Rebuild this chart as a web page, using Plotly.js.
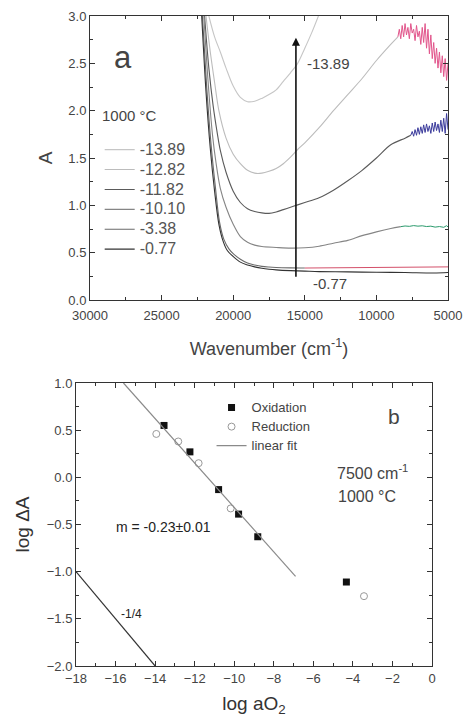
<!DOCTYPE html>
<html>
<head>
<meta charset="utf-8">
<script src="https://cdn.plot.ly/plotly-3.0.1.min.js"></script>
<style>html,body{margin:0;padding:0;background:#fff}#chart{width:468px;height:728px}</style>
</head>
<body>
<div id="chart"></div>
<script>
// ---------- Panel a: absorbance spectra (log aO2 labels) ----------
var seriesNames = ['-13.89', '-12.82', '-11.82', '-10.10', '-3.38', '-0.77'];
var wnTicks = [30000, 25000, 20000, 15000, 10000, 5000];
var wnTickText = ['30000', '25000', '20000', '15000', '10000', '5000'];

var wnA = [21700, 21300, 20900, 20500, 20000, 19500, 19000, 18500, 18000, 17500, 17000, 16500, 16000, 15500, 15000, 14500, 14050];
var absA = [3.0, 2.78, 2.62, 2.45, 2.26, 2.14, 2.095, 2.10, 2.13, 2.17, 2.22, 2.31, 2.40, 2.50, 2.66, 2.83, 3.0];

var wnB = [21900, 21600, 21300, 21000, 20500, 20000, 19500, 19000, 18500, 18000, 17500, 17000, 16500, 16000, 15500, 15000, 14000, 13000, 12000, 11000, 10000, 9000, 8500];
var absB = [3.0, 2.62, 2.3, 2.0, 1.71, 1.54, 1.44, 1.37, 1.34, 1.34, 1.36, 1.39, 1.44, 1.51, 1.59, 1.66, 1.82, 2.0, 2.17, 2.34, 2.53, 2.70, 2.78];
var wnBn = [8500, 8400, 8300, 8200, 8100, 8000, 7900, 7800, 7700, 7600, 7500, 7400, 7300, 7200, 7100, 7000, 6900, 6800, 6700, 6600, 6500, 6400, 6300, 6200, 6100, 6000, 5900, 5800, 5700, 5600, 5500, 5400, 5300, 5200, 5100, 5000];
var absBn = [2.78, 2.86, 2.76, 2.90, 2.78, 2.92, 2.80, 2.88, 2.76, 2.92, 2.82, 2.86, 2.74, 2.90, 2.78, 2.84, 2.70, 2.88, 2.72, 2.92, 2.66, 2.86, 2.60, 2.80, 2.55, 2.72, 2.50, 2.66, 2.45, 2.62, 2.40, 2.58, 2.36, 2.55, 2.32, 2.50];

var wnC = [22000, 21700, 21400, 21100, 20900, 20500, 20000, 19500, 19000, 18500, 18000, 17500, 17000, 16500, 16000, 15500, 15000, 14000, 13000, 12000, 11000, 10000, 9000, 8000, 7600];
var absC = [3.0, 2.45, 2.05, 1.75, 1.58, 1.35, 1.15, 1.03, 0.965, 0.935, 0.92, 0.915, 0.93, 0.955, 0.98, 1.005, 1.03, 1.08, 1.16, 1.26, 1.37, 1.50, 1.64, 1.71, 1.74];
var wnCn = [7600, 7500, 7400, 7300, 7200, 7100, 7000, 6900, 6800, 6700, 6600, 6500, 6400, 6300, 6200, 6100, 6000, 5900, 5800, 5700, 5600, 5500, 5400, 5300, 5200, 5100, 5000];
var absCn = [1.74, 1.78, 1.73, 1.80, 1.74, 1.82, 1.75, 1.83, 1.76, 1.85, 1.77, 1.86, 1.78, 1.84, 1.76, 1.87, 1.78, 1.88, 1.79, 1.86, 1.77, 1.90, 1.78, 1.92, 1.76, 1.97, 1.80];

var wnD = [22050, 21750, 21450, 21200, 20900, 20500, 20000, 19500, 19000, 18500, 18000, 17000, 16000, 15000, 14000, 13000, 12000, 11000, 10000, 9000, 8300];
var absD = [3.0, 2.3, 1.75, 1.45, 1.18, 0.98, 0.80, 0.67, 0.61, 0.58, 0.565, 0.555, 0.548, 0.552, 0.568, 0.60, 0.63, 0.68, 0.72, 0.755, 0.775];
var wnDn = [8300, 8000, 7700, 7400, 7100, 6800, 6500, 6200, 5900, 5600, 5300, 5100, 5000];
var absDn = [0.775, 0.782, 0.778, 0.786, 0.780, 0.784, 0.776, 0.780, 0.770, 0.776, 0.768, 0.785, 0.772];

var wnE = [22150, 21850, 21550, 21250, 20950, 20650, 20300, 20000, 19500, 19000, 18500, 18000, 17500, 17000, 16000, 15000];
var absE = [3.0, 2.25, 1.65, 1.2, 0.82, 0.64, 0.54, 0.49, 0.43, 0.39, 0.37, 0.355, 0.348, 0.344, 0.34, 0.338];
var wnEn = [15000, 14000, 13000, 12000, 11000, 10000, 9000, 8000, 7000, 6000, 5500, 5000];
var absEn = [0.338, 0.339, 0.340, 0.341, 0.342, 0.343, 0.344, 0.345, 0.346, 0.347, 0.348, 0.350];

var wnF = [22200, 21900, 21600, 21300, 21000, 20700, 20400, 20000, 19500, 19000, 18500, 18000, 17500, 17000, 16000, 15000, 14000, 12000, 10000, 8000, 6000, 5000];
var absF = [3.0, 2.2, 1.6, 1.15, 0.8, 0.62, 0.52, 0.46, 0.40, 0.37, 0.35, 0.335, 0.325, 0.318, 0.31, 0.305, 0.30, 0.297, 0.293, 0.29, 0.285, 0.29];

var grayColors = ['#c6c6c6', '#bcbcbc', '#5a5a5a', '#858585', '#6a6a6a', '#333333'];

// ---------- Panel b: log dA vs log aO2 ----------
var oxX = [-13.55, -12.24, -10.79, -9.78, -8.81, -4.33];
var oxY = [0.55, 0.27, -0.13, -0.39, -0.63, -1.11];
var redX = [-13.94, -12.83, -11.80, -10.18, -3.44];
var redY = [0.46, 0.38, 0.15, -0.33, -1.26];
var fitX = [-15.6, -6.9];
var fitY = [1.0, -1.05];
var quarterX = [-18, -14];
var quarterY = [-1.0, -2.0];

var FONT = 'Liberation Sans, Arial, sans-serif';
function lname(s, sz){ return '<span style="font-size:' + sz + 'px">' + s + '</span>'; }

var traces = [];
var grayX = [wnA, wnB, wnC, wnD, wnE, wnF];
var grayY = [absA, absB, absC, absD, absE, absF];
for (var i = 0; i < 6; i++) {
  traces.push({
    x: grayX[i], y: grayY[i], type: 'scatter', mode: 'lines',
    line: {color: grayColors[i], width: 1.1, shape: 'spline', smoothing: 0.9},
    name: lname(seriesNames[i], 16), xaxis: 'x', yaxis: 'y', legend: 'legend'
  });
}
var noisyX = [wnBn, wnCn, wnDn, wnEn];
var noisyY = [absBn, absCn, absDn, absEn];
var noisyCol = ['#e2568c', '#3b3b9c', '#2a9a6c', '#d4506a'];
for (var j = 0; j < 4; j++) {
  traces.push({
    x: noisyX[j], y: noisyY[j], type: 'scatter', mode: 'lines',
    line: {color: noisyCol[j], width: 1}, showlegend: false, hoverinfo: 'skip',
    xaxis: 'x', yaxis: 'y'
  });
}

traces.push({x: oxX, y: oxY, type: 'scatter', mode: 'markers', name: lname('Oxidation', 13),
  marker: {symbol: 'square', size: 7, color: '#111'}, xaxis: 'x2', yaxis: 'y2', legend: 'legend2'});
traces.push({x: redX, y: redY, type: 'scatter', mode: 'markers', name: lname('Reduction', 13),
  marker: {symbol: 'circle-open', size: 7, color: '#999', line: {width: 1}}, xaxis: 'x2', yaxis: 'y2', legend: 'legend2'});
traces.push({x: fitX, y: fitY, type: 'scatter', mode: 'lines', name: lname('linear fit', 13),
  line: {color: '#8a8a8a', width: 1.2}, xaxis: 'x2', yaxis: 'y2', legend: 'legend2'});
traces.push({x: quarterX, y: quarterY, type: 'scatter', mode: 'lines', showlegend: false,
  line: {color: '#333', width: 1.2}, xaxis: 'x2', yaxis: 'y2'});

var axisCommon = {
  showline: true, linecolor: '#333', linewidth: 1, mirror: 'ticks',
  ticks: 'inside', ticklen: 5, tickcolor: '#333', showgrid: false, zeroline: false,
  tickfont: {family: FONT, size: 13, color: '#444'}
};
function ax(o){ var r = JSON.parse(JSON.stringify(axisCommon)); for (var k in o) r[k] = o[k]; return r; }

var layout = {
  width: 468, height: 728,
  margin: {l: 0, r: 0, t: 0, b: 0},
  paper_bgcolor: '#fff', plot_bgcolor: '#fff',
  showlegend: true,
  xaxis: ax({domain: [0.1923, 0.9573], range: [30000, 5000], autorange: false,
    tickmode: 'array', tickvals: wnTicks, ticktext: wnTickText, ticklabelstandoff: 3,
    minor: {ticks: 'inside', ticklen: 3, tickcolor: '#333', dtick: 2500, tick0: 0, showgrid: false},
    title: {text: 'Wavenumber (cm<sup>-1</sup>)', font: {family: FONT, size: 18, color: '#444'}, standoff: 20}, anchor: 'y'}),
  yaxis: ax({domain: [0.5879, 0.978], range: [0, 3], autorange: false, dtick: 0.5, tickformat: '.1f',
    minor: {ticks: 'inside', ticklen: 3, tickcolor: '#333', dtick: 0.25, showgrid: false},
    title: {text: 'A', font: {family: FONT, size: 19, color: '#444'}, standoff: 10}, anchor: 'x'}),
  xaxis2: ax({domain: [0.1624, 0.9231], range: [-18, 0], autorange: false, dtick: 2,
    minor: {ticks: 'inside', ticklen: 3, tickcolor: '#333', dtick: 1, showgrid: false},
    title: {text: 'log aO<sub>2</sub>', font: {family: FONT, size: 19, color: '#333'}, standoff: 12}, anchor: 'y2'}),
  yaxis2: ax({domain: [0.0852, 0.4739], range: [-2, 1], autorange: false, dtick: 0.5, tickformat: '.1f',
    minor: {ticks: 'inside', ticklen: 3, tickcolor: '#333', dtick: 0.25, showgrid: false},
    title: {text: 'log ΔA', font: {family: FONT, size: 19, color: '#333'}, standoff: 12}, anchor: 'x2'}),
  legend: {x: 0.213, y: 0.815, xanchor: 'left', yanchor: 'top', bgcolor: 'rgba(0,0,0,0)',
    font: {family: FONT, size: 13, color: '#555'}, tracegroupgap: 0, itemwidth: 30},
  legend2: {x: 0.452, y: 0.460, xanchor: 'left', yanchor: 'top', bgcolor: 'rgba(0,0,0,0)',
    font: {family: FONT, size: 11, color: '#444'}, itemwidth: 30},
  annotations: [
    {xref: 'x', yref: 'y', x: 27700, y: 2.56, text: 'a', showarrow: false, font: {family: FONT, size: 31, color: '#444'}},
    {xref: 'paper', yref: 'paper', x: 0.2137, y: (728 - 116) / 728, xanchor: 'left', yanchor: 'middle', text: '1000 °C', showarrow: false, font: {family: FONT, size: 15, color: '#444'}},
    {xref: 'x', yref: 'y', x: 15620, y: 2.77, ax: 15620, ay: 0.23, axref: 'x', ayref: 'y', text: '', showarrow: true,
      arrowhead: 2, arrowsize: 1, arrowwidth: 1.6, arrowcolor: '#111'},
    {xref: 'x', yref: 'y', x: 13380, y: 2.5, text: '-13.89', showarrow: false, font: {family: FONT, size: 15, color: '#444'}},
    {xref: 'x', yref: 'y', x: 13240, y: 0.17, text: '-0.77', showarrow: false, font: {family: FONT, size: 15, color: '#444'}},
    {xref: 'x2', yref: 'y2', x: -1.9, y: 0.64, text: 'b', showarrow: false, font: {family: FONT, size: 21, color: '#444'}},
    {xref: 'x2', yref: 'y2', x: -3.0, y: 0.06, text: '7500 cm<sup>-1</sup>', showarrow: false, font: {family: FONT, size: 16, color: '#444'}},
    {xref: 'x2', yref: 'y2', x: -3.3, y: -0.20, text: '1000 °C', showarrow: false, font: {family: FONT, size: 16, color: '#444'}},
    {xref: 'x2', yref: 'y2', x: -13.6, y: -0.53, text: 'm = -0.23±0.01', showarrow: false, font: {family: FONT, size: 14, color: '#222'}},
    {xref: 'x2', yref: 'y2', x: -15.2, y: -1.45, text: '-1/4', showarrow: false, font: {family: FONT, size: 12, color: '#222'}}
  ]
};

Plotly.newPlot('chart', traces, layout, {staticPlot: true, displayModeBar: false});
</script>
</body>
</html>
